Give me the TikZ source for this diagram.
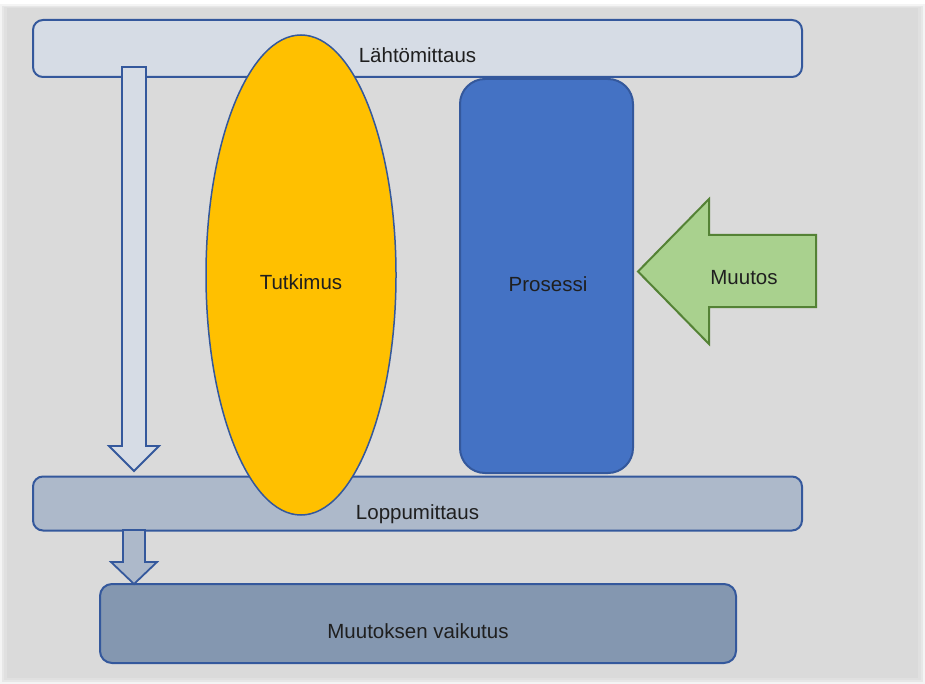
\documentclass[tikz,border=0pt]{standalone}
\usepackage{fontspec}
\setmainfont{Liberation Sans}
\usetikzlibrary{shapes.geometric}
\definecolor{panel}{RGB}{218,218,218}
\definecolor{edgeblue}{RGB}{52,88,156}
\definecolor{startfill}{RGB}{214,220,229}
\definecolor{endfill}{RGB}{173,185,202}
\definecolor{effectfill}{RGB}{132,151,176}
\definecolor{processfill}{RGB}{68,114,196}
\definecolor{studyfill}{RGB}{255,192,0}
\definecolor{changefill}{RGB}{169,209,142}
\definecolor{changeedge}{RGB}{84,130,53}
\begin{document}
\begin{tikzpicture}[x=1pt,y=-1pt,
  outline/.style={draw=edgeblue, line width=2pt},
  boxnode/.style={outline, rectangle, inner sep=0pt},
  txt/.style={font=\fontsize{20.5}{24}\selectfont, text=black!88, anchor=base, inner sep=0pt}]
\useasboundingbox (0,0) rectangle (925,684);
\fill[white] (0,0) rectangle (925,684);
% panel with soft edges
\fill[panel!30!white] (0,4) rectangle (925,684);
\fill[panel!65!white] (2,6) rectangle (923,682);
\fill[panel!85!white] (4,7) rectangle (921,680);
\fill[panel] (7,8) rectangle (918,678);

% measurement bars
\node[boxnode, fill=startfill, rounded corners=10pt, minimum width=769pt, minimum height=57pt] (start) at (417.5,48.5) {};
\node[boxnode, fill=endfill, rounded corners=10pt, minimum width=769pt, minimum height=54pt] (final) at (417.5,503.5) {};
\node[boxnode, fill=effectfill, rounded corners=12pt, minimum width=636pt, minimum height=79pt] (effect) at (418,623.5) {};

% block arrows between the bars
\draw[outline, fill=startfill, line width=1.8pt, line join=miter]
  (122,67) -- (146,67) -- (146,446) -- (159,446) -- (134,471) -- (109,446) -- (122,446) -- cycle;
\draw[outline, fill=endfill, line width=1.8pt, line join=miter]
  (123,530) -- (145,530) -- (145,562) -- (157,562) -- (134,584) -- (111,562) -- (123,562) -- cycle;

% study and process
\node[ellipse, draw=edgeblue, line width=1.5pt, fill=studyfill, minimum width=190pt, minimum height=480pt, inner sep=0pt] (study) at (301,275) {};
\node[boxnode, fill=processfill, rounded corners=25pt, minimum width=173pt, minimum height=394pt] (process) at (546.5,276) {};

% incoming change
\draw[draw=changeedge, line width=2pt, fill=changefill, line join=miter]
  (816,235) -- (709,235) -- (709,199) -- (638,271.5) -- (709,344) -- (709,307) -- (816,307) -- cycle;

% labels
\node[txt] (tstart) at (417.5,63) {Lähtömittaus};
\node[txt] (tfinal) at (417.5,519) {Loppumittaus};
\node[txt] (teffect) at (418,638) {Muutoksen vaikutus};
\node[txt] (tstudy) at (301,289) {Tutkimus};
\node[txt] (tprocess) at (548,291) {Prosessi};
\node[txt] (tchange) at (744,284) {Muutos};
\end{tikzpicture}
\end{document}
